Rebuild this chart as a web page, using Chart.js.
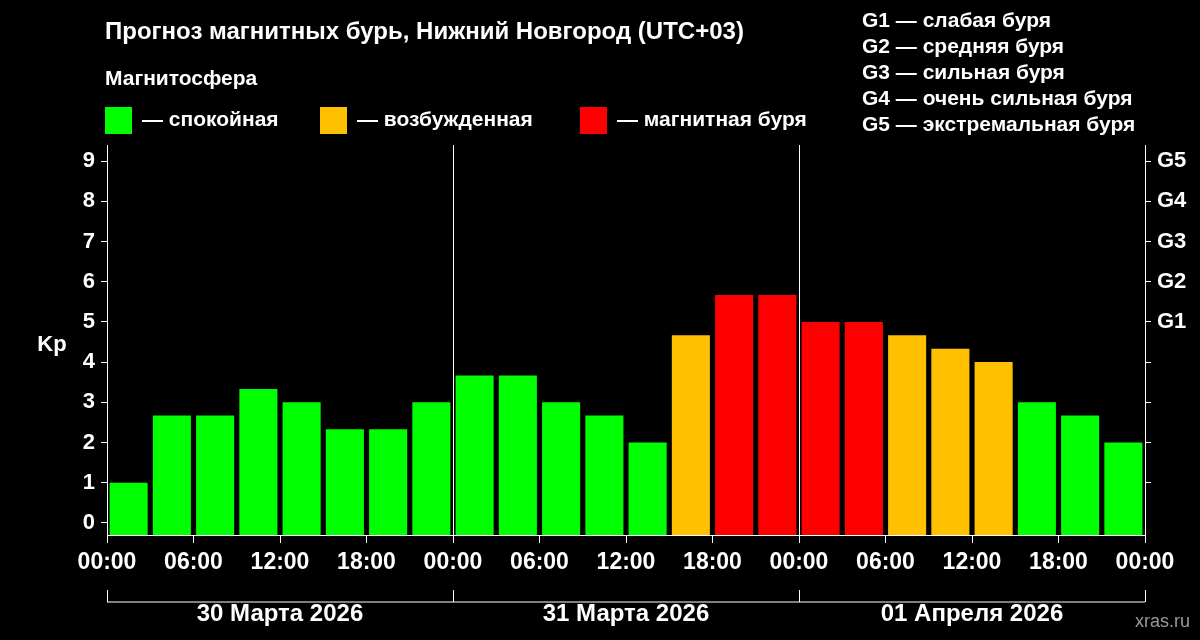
<!DOCTYPE html>
<html><head><meta charset="utf-8">
<script src="https://cdn.jsdelivr.net/npm/chart.js@4/dist/chart.umd.min.js"></script>
<style>html,body{margin:0;background:#000;}canvas{display:block;}</style>
</head><body>
<div style="width:1200px;height:640px"><canvas id="c"></canvas></div>
<script>
const kpValues = [1, 2.67, 2.67, 3.33, 3, 2.33, 2.33, 3,
                  3.67, 3.67, 3, 2.67, 2, 4.67, 5.67, 5.67,
                  5, 5, 4.67, 4.33, 4, 3, 2.67, 2];
const dayLabels = ['30 Марта 2026', '31 Марта 2026', '01 Апреля 2026'];
const gLabels = {5: 'G1', 6: 'G2', 7: 'G3', 8: 'G4', 9: 'G5'};
const gLegend = ['G1 — слабая буря', 'G2 — средняя буря', 'G3 — сильная буря', 'G4 — очень сильная буря', 'G5 — экстремальная буря'];
const FONT = 'Liberation Sans, Arial, sans-serif';

function kpColor(v) {
    if (v >= 5) return '#ff0000';
    if (v >= 4) return '#ffc000';
    return '#00ff00';
}

const points = kpValues.map((v, i) => ({ x: 1.5 + 3 * i, y: v }));

const decor = {
    id: 'decor',
    afterDraw(chart) {
        const ctx = chart.ctx;
        const a = chart.chartArea;
        const xs = chart.scales.x;
        ctx.save();
        ctx.fillStyle = '#fff';
        ctx.textBaseline = 'middle';
        ctx.font = 'bold 24px ' + FONT;
        ctx.fillText('Прогноз магнитных бурь, Нижний Новгород (UTC+03)', 105, 32);
        ctx.font = 'bold 21px ' + FONT;
        ctx.fillText('Магнитосфера', 105, 79);
        const leg = [['#00ff00', '— спокойная', 105], ['#ffc000', '— возбужденная', 320], ['#ff0000', '— магнитная буря', 580]];
        leg.forEach(([c, t, x]) => {
            ctx.fillStyle = c; ctx.fillRect(x, 107, 27, 27);
            ctx.fillStyle = '#fff'; ctx.fillText(t, x + 37, 120);
        });
        gLegend.forEach((t, i) => ctx.fillText(t, 862, 21 + i * 26));
        ctx.font = 'bold 22px ' + FONT;
        ctx.textAlign = 'center';
        ctx.fillText('Kp', 52, 345);
        // day brackets
        ctx.strokeStyle = '#fff'; ctx.lineWidth = 1;
        const yb = 602;
        ctx.beginPath();
        ctx.moveTo(a.left, yb); ctx.lineTo(a.right, yb);
        [0, 24, 48, 72].forEach(h => {
            const x = Math.round(xs.getPixelForValue(h)) + 0.5;
            ctx.moveTo(x, yb); ctx.lineTo(x, yb - 12);
        });
        ctx.stroke();
        ctx.font = 'bold 24px ' + FONT;
        dayLabels.forEach((d, i) => ctx.fillText(d, xs.getPixelForValue(12 + 24 * i), 614));
        ctx.font = '18px ' + FONT; ctx.fillStyle = '#999';
        ctx.textAlign = 'right';
        ctx.fillText('xras.ru', 1190, 622);
        ctx.restore();
    }
};

new Chart(document.getElementById('c'), {
    type: 'bar',
    data: {
        datasets: [{
            data: points,
            base: -0.3,
            backgroundColor: kpColor ? kpValues.map(kpColor) : [],
            borderWidth: 0,
            barPercentage: 0.88,
            categoryPercentage: 1
        }]
    },
    options: {
        responsive: true,
        maintainAspectRatio: false,
        animation: false,
        layout: { padding: { top: 145, right: 0, left: 0, bottom: 0 } },
        plugins: { legend: { display: false }, tooltip: { enabled: false } },
        scales: {
            x: {
                type: 'linear', min: 0, max: 72, offset: false,
                afterBuildTicks: s => { s.ticks = [0, 6, 12, 18, 24, 30, 36, 42, 48, 54, 60, 66, 72].map(v => ({ value: v })); },
                afterFit: s => { s.height = 105; },
                ticks: {
                    color: '#fff', font: { family: FONT, size: 23, weight: 'bold' }, maxRotation: 0, padding: 6,
                    callback: v => String(v % 24).padStart(2, '0') + ':00'
                },
                grid: {
                    offset: false,
                    color: c => (c.tick && (c.tick.value === 24 || c.tick.value === 48)) ? '#fff' : 'rgba(0,0,0,0)',
                    tickColor: '#fff', tickLength: 8, drawOnChartArea: true
                },
                border: { color: '#fff' }
            },
            y: {
                min: -0.3, max: 9.4, position: 'left',
                afterBuildTicks: s => { s.ticks = [0,1,2,3,4,5,6,7,8,9].map(v => ({ value: v })); },
                afterFit: s => { s.width = 107; },
                ticks: { color: '#fff', font: { family: FONT, size: 22, weight: 'bold' }, padding: 6 },
                grid: { drawOnChartArea: false, tickColor: '#fff', tickLength: 6 },
                border: { color: '#fff' }
            },
            y2: {
                min: -0.3, max: 9.4, position: 'right',
                afterBuildTicks: s => { s.ticks = [1,2,3,4,5,6,7,8,9].map(v => ({ value: v })); },
                afterFit: s => { s.width = 55; },
                ticks: { color: '#fff', font: { family: FONT, size: 22, weight: 'bold' }, padding: 6, callback: v => gLabels[v] || '' },
                grid: { drawOnChartArea: false, tickColor: '#fff', tickLength: 6 },
                border: { color: '#fff' }
            }
        }
    },
    plugins: [decor]
});
</script>
</body></html>
